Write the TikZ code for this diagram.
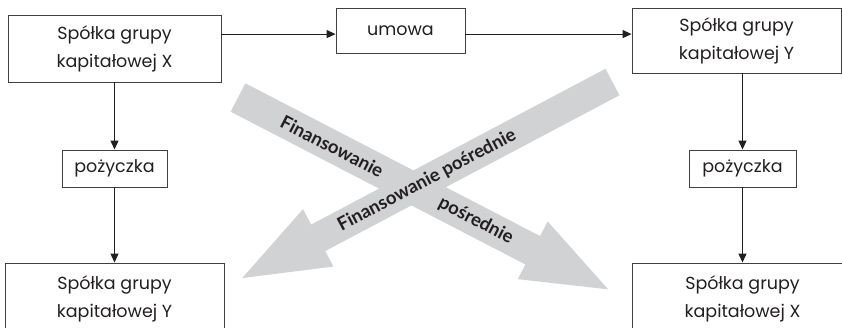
\documentclass[tikz,border=0pt]{standalone}
\usepackage{fontspec}
\setmainfont{Poppins}
\newfontfamily\bandfont{Lato}
\usetikzlibrary{arrows.meta, positioning}
\definecolor{bandgray}{RGB}{209,210,211}
\definecolor{boxline}{RGB}{64,64,64}
\definecolor{ink}{RGB}{35,31,32}

\begin{document}
\begin{tikzpicture}[x=1pt, y=-1pt, node distance=120pt, auto]
    \tikzstyle{firm} = [rectangle, draw=boxline, line width=0.9pt, text=ink, align=center, inner sep=0pt, minimum width=213pt, minimum height=67pt, font=\fontsize{17.5}{28}\selectfont]
    \tikzstyle{deal} = [rectangle, draw=boxline, line width=0.9pt, text=ink, align=center, inner sep=0pt, minimum height=37pt, font=\fontsize{17.5}{20}\selectfont]
    \tikzstyle{arrow} = [line width=1.1pt, draw=ink, -{Triangle[length=9pt, width=8pt]}]
    \tikzstyle{band} = [fill=bandgray]
    \tikzstyle{bandtext} = [text=ink, transform shape, inner sep=0pt, font=\bandfont\bfseries\fontsize{18.5}{20}\selectfont]

    \useasboundingbox (0,0) rectangle (842,328);
    \clip (0,0) rectangle (842,328);

    % gray arrows (drawn first)
    \begin{scope}[shift={(238,97.5)}, rotate=-27.4]
        \fill [band] (0,-16) -- (332,-16) -- (332,-32.5) -- (417,0) -- (332,32.5) -- (332,16) -- (0,16) -- cycle;
    \end{scope}
    \begin{scope}[shift={(612.5,82)}, rotate=207.9]
        \fill [band] (0,-15) -- (333,-15) -- (333,-32.5) -- (419,0) -- (333,32.5) -- (333,15) -- (0,15) -- cycle;
    \end{scope}
    \begin{scope}[shift={(238,97.5)}, rotate=-27.4]
        \node [bandtext] (fin1) at (106,0) {Finansowanie};
        \node [bandtext] (pos1) at (268,0) {pośrednie};
    \end{scope}
    \begin{scope}[shift={(612.5,82)}, rotate=27.9]
        \node [bandtext] (fin2) at (-210,0) {Finansowanie pośrednie};
    \end{scope}

    % boxes
    \node [firm] (firmX) at (114.5,48.5) {Spółka grupy\\kapitałowej X};
    \node [deal, minimum width=129pt, minimum height=45pt] (umowa) at (400.5,30.5) {umowa};
    \node [firm, minimum width=209pt, minimum height=65pt] (firmY) at (736.5,40.5) {Spółka grupy\\kapitałowej Y};

    \node [deal, minimum width=105pt, below of=firmX] (loanL) {pożyczka};
    \node [deal, minimum width=107pt] (loanR) at (742.5,168.5) {pożyczka};

    \node [firm, minimum width=219pt, minimum height=72pt, below of=loanL, node distance=130.5pt] (firmYb) {Spółka grupy\\kapitałowej Y};
    \node [firm, minimum width=221pt, minimum height=72pt, below of=loanR, node distance=130.5pt] (firmXb) {Spółka grupy\\kapitałowej X};

    % connectors
    \draw [arrow] ([yshift=-3.6pt]firmX.east |- umowa.west) -- ([yshift=-3.6pt]umowa.west);
    \draw [arrow] ([yshift=-3.6pt]umowa.east) -- ([yshift=-3.6pt]umowa.east -| firmY.west);
    \draw [arrow] (firmX) -- (loanL);
    \draw [arrow] (loanL) -- (firmYb);
    \draw [arrow] (firmY.south -| loanR.north) -- (loanR);
    \draw [arrow] (loanR) -- (firmXb);
\end{tikzpicture}
\end{document}
